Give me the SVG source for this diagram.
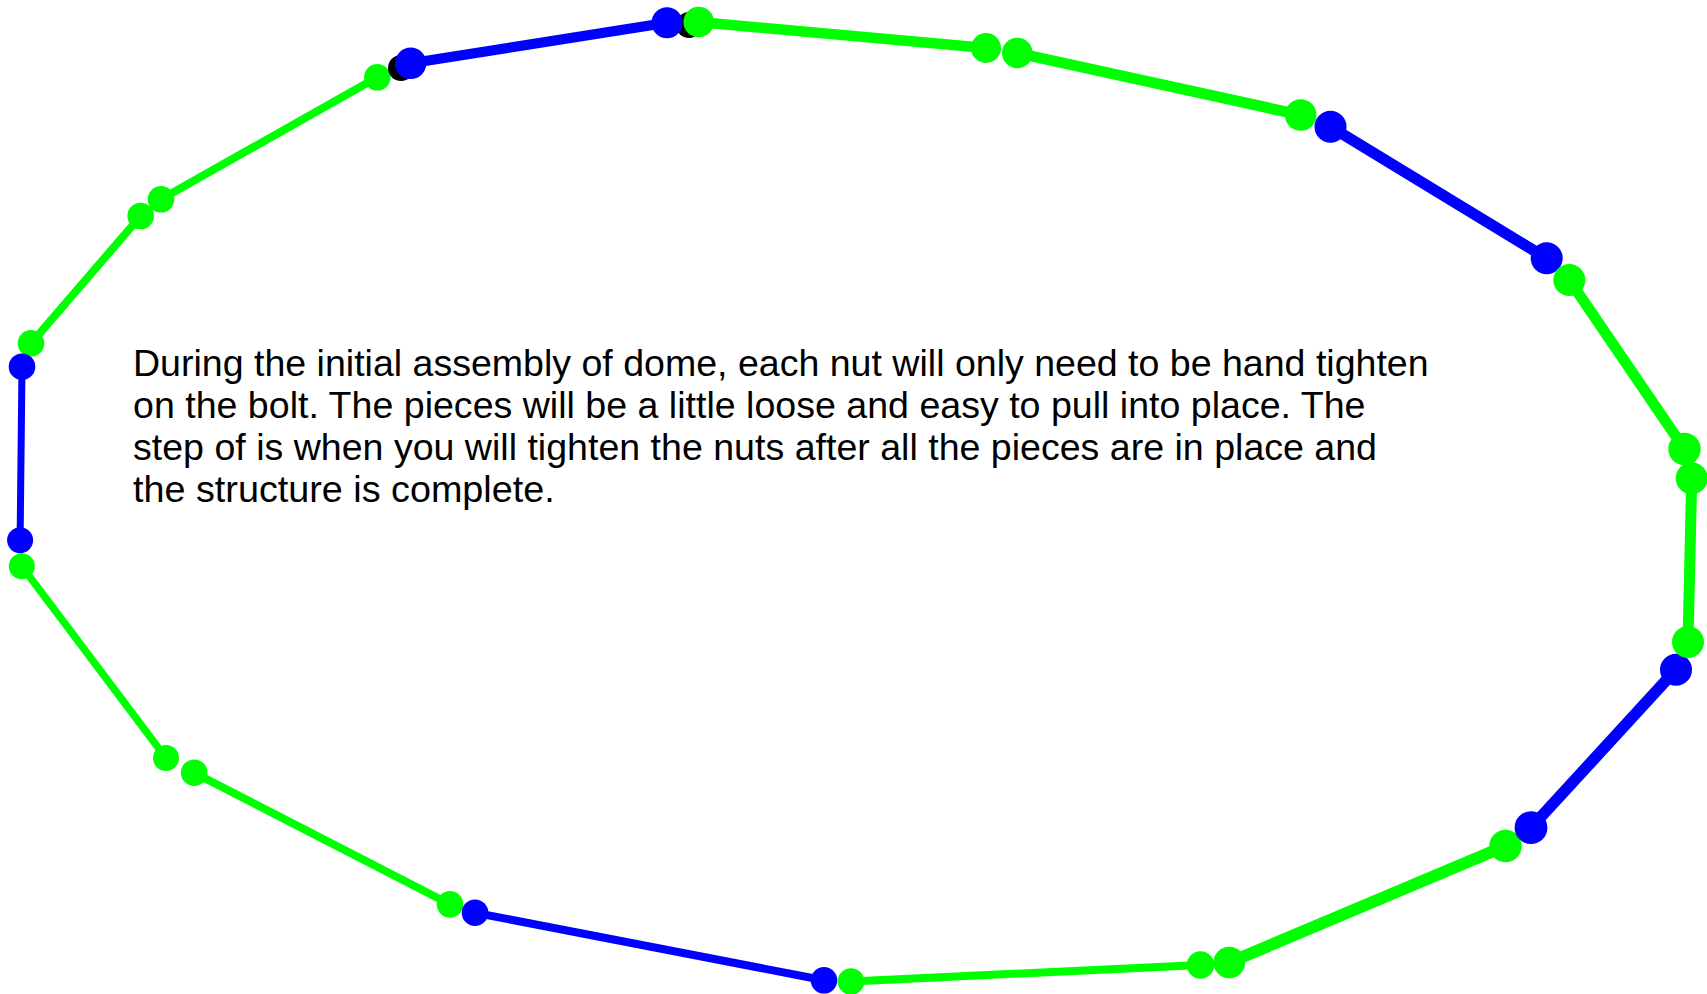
<svg xmlns="http://www.w3.org/2000/svg" width="1707" height="994" viewBox="0 0 1707 994">
<style>
.g line{stroke:#00ff00;stroke-linecap:round}
.g circle{fill:#00ff00}
.b line{stroke:#0000ff;stroke-linecap:round}
.b circle{fill:#0000ff}
.b circle.k{fill:#000000}
.t{font-family:"Liberation Sans",Arial,sans-serif;font-size:37.8px;fill:#000000}
</style>
<rect width="1707" height="994" fill="#ffffff"/>
<g id="seg1" class="g"><line x1="31" y1="343.3" x2="140.7" y2="216" stroke-width="8"/><circle cx="31" cy="343.3" r="13.3"/><circle cx="140.7" cy="216" r="13.3"/></g>
<g id="seg2" class="g"><line x1="161" y1="199.3" x2="377.3" y2="77.3" stroke-width="8"/><circle cx="161" cy="199.3" r="13.3"/><circle cx="377.3" cy="77.3" r="13.3"/></g>
<g id="seg3" class="b"><circle class="k" cx="401" cy="68" r="13"/><circle class="k" cx="689" cy="25" r="13"/><line x1="410.7" y1="63.3" x2="667" y2="22.7" stroke-width="10"/><circle cx="410.7" cy="63.3" r="15.7"/><circle cx="667" cy="22.7" r="15.5"/></g>
<g id="seg4" class="g"><line x1="698.7" y1="22" x2="986" y2="48" stroke-width="10.5"/><circle cx="698.7" cy="22" r="15.3"/><circle cx="986" cy="48" r="15"/></g>
<g id="seg5" class="g"><line x1="1017.3" y1="53" x2="1300.7" y2="115" stroke-width="11"/><circle cx="1017.3" cy="53" r="15.3"/><circle cx="1300.7" cy="115" r="15.8"/></g>
<g id="seg6" class="b"><line x1="1330.5" y1="126.7" x2="1546.7" y2="258.3" stroke-width="11"/><circle cx="1330.5" cy="126.7" r="16"/><circle cx="1546.7" cy="258.3" r="16"/></g>
<g id="seg7" class="g"><line x1="1569.3" y1="280" x2="1684.5" y2="449" stroke-width="11"/><circle cx="1569.3" cy="280" r="16"/><circle cx="1684.5" cy="449" r="16.2"/></g>
<g id="seg10" class="g"><line x1="1505.5" y1="846" x2="1229.3" y2="962.5" stroke-width="12"/><circle cx="1505.5" cy="846" r="16.2"/><circle cx="1229.3" cy="962.5" r="15.8"/></g>
<g id="seg9" class="b"><line x1="1676" y1="669.7" x2="1531" y2="827.7" stroke-width="11.5"/><circle cx="1676" cy="669.7" r="16"/><circle cx="1531" cy="827.7" r="16.4"/></g>
<g id="seg8" class="g"><line x1="1691.7" y1="478.3" x2="1688" y2="642" stroke-width="11"/><circle cx="1691.7" cy="478.3" r="16"/><circle cx="1688" cy="642" r="16"/></g>
<g id="seg13" class="g"><line x1="450" y1="904.3" x2="194.2" y2="772.7" stroke-width="8"/><circle cx="450" cy="904.3" r="13.3"/><circle cx="194.2" cy="772.7" r="13.3"/></g>
<g id="seg12" class="b"><line x1="824" y1="980.3" x2="475" y2="912.7" stroke-width="8"/><circle cx="824" cy="980.3" r="13.3"/><circle cx="475" cy="912.7" r="13.3"/></g>
<g id="seg11" class="g"><line x1="1200.5" y1="965" x2="851" y2="981.5" stroke-width="8"/><circle cx="1200.5" cy="965" r="13.7"/><circle cx="851" cy="981.5" r="13.3"/></g>
<g id="seg14" class="g"><line x1="166" y1="758" x2="21.8" y2="566.3" stroke-width="7.5"/><circle cx="166" cy="758" r="13"/><circle cx="21.8" cy="566.3" r="13"/></g>
<g id="seg15" class="b"><line x1="20.1" y1="540.3" x2="22" y2="366.7" stroke-width="7"/><circle cx="20.1" cy="540.3" r="13"/><circle cx="22" cy="366.7" r="13.3"/></g>
<g id="caption" class="t">
<text x="133" y="375.5" textLength="1295.6" lengthAdjust="spacingAndGlyphs">During the initial assembly of dome, each nut will only need to be hand tighten</text>
<text x="133" y="417.7" textLength="1232.5" lengthAdjust="spacingAndGlyphs">on the bolt. The pieces will be a little loose and easy to pull into place. The</text>
<text x="133" y="459.9" textLength="1244" lengthAdjust="spacingAndGlyphs">step of is when you will tighten the nuts after all the pieces are in place and</text>
<text x="133" y="502.1" textLength="421.7" lengthAdjust="spacingAndGlyphs">the structure is complete.</text>
</g>
</svg>
